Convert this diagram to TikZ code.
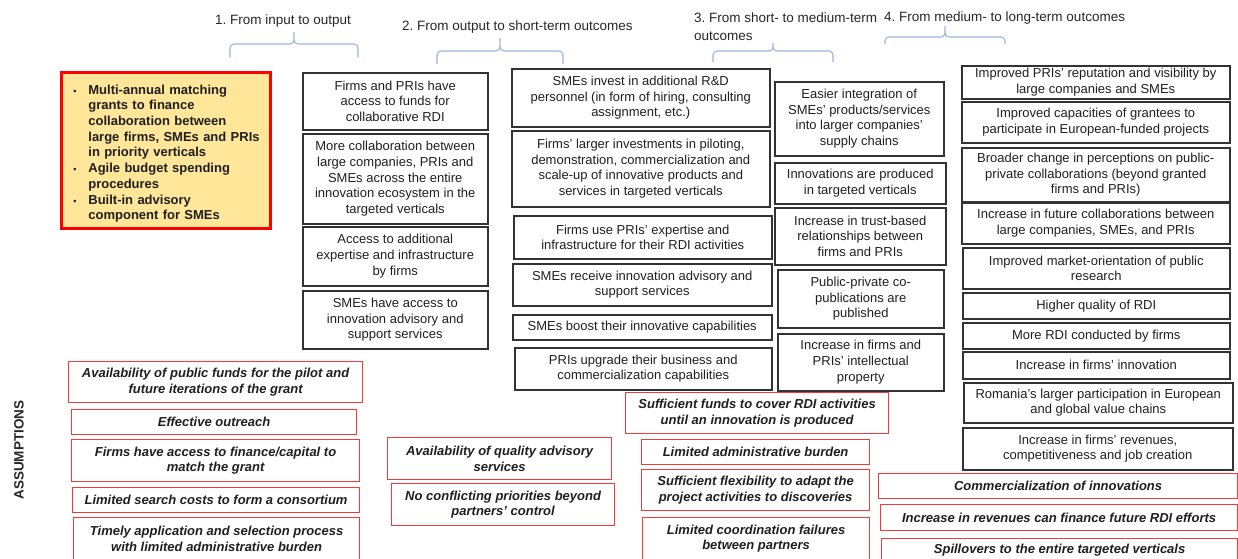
\documentclass[tikz,border=0pt]{standalone}
\usepackage{fontspec}
\setmainfont{Liberation Sans}
\usetikzlibrary{positioning}
\frenchspacing
\definecolor{inputfill}{HTML}{FFE699}
\definecolor{asred}{HTML}{F23A3A}
\definecolor{braceblue}{HTML}{9AB6E4}
\tikzset{
  basic/.style  = {draw, rectangle, anchor=north west, align=center, inner sep=1pt,
                   font=\fontsize{13}{15.7}\selectfont, text=black!88},
  output/.style = {basic, draw=black!80, line width=1.5pt},
  assump/.style = {basic, draw=asred, line width=1.2pt,
                   font=\fontsize{13}{15.7}\selectfont\bfseries\itshape},
  input/.style  = {basic, draw=red, line width=2.8pt, fill=inputfill, align=left,
                   text width=193pt, inner xsep=8pt,
                   font=\fontsize{13}{15.7}\selectfont\bfseries},
  stage/.style  = {inner sep=0pt, font=\fontsize{13.5}{18}\selectfont, text=black!85},
  stagebrace/.style = {draw=braceblue, line width=1.1pt, rounded corners=4pt},
  wh/.style 2 args = {minimum width=#1pt, minimum height=#2pt}
}
\newcommand\grantitem[1]{\par\noindent\hangindent=19pt\hangafter=1%
  \makebox[19pt][l]{\hspace{4pt}\fontsize{9}{9}\selectfont\textbullet}#1\par}

\begin{document}
\begin{tikzpicture}[x=1pt, y=-1pt]
\useasboundingbox (0,0) rectangle (1238,558);
\clip (0,0) rectangle (1238,558);

% stage headings and their braces
\node[stage] (st1) at (283,21) {1. From input to output};
\node[stage, anchor=west] (st2) at (402,27) {2. From output to short-term outcomes};
\node[stage, anchor=north west, align=left] (st3) at (694,13) {3. From short- to medium-term\\outcomes};
\node[stage, anchor=west] (st4) at (884,18) {4. From medium- to long-term outcomes};

\foreach \xl/\xr/\xm/\yb/\yh/\yt in {230/358/294/57/44/32, 437/563/500/64/51/38,
                                     713/833/773/62/51/43, 885/1005/945/44/37/26}
  \draw[stagebrace] (\xl,\yb) |- (\xm,\yh) -- (\xm,\yt) (\xr,\yb) |- (\xm,\yh) -- (\xm,\yt);

% input
\node[input, wh={209}{156}] (grant) at (60,71) {%
  \grantitem{Multi-annual matching\newline grants to finance\newline collaboration between\newline large firms, SMEs and PRIs\newline in priority verticals}%
  \grantitem{Agile budget spending\newline procedures}%
  \grantitem{Built-in advisory\newline component for SMEs}};

% 1. outputs
\node[output, wh={185}{57}] (acc) at (302,72) {Firms and PRIs have\\access to funds for\\collaborative RDI};
\node[output, wh={185}{90}] (collab) at (302,133) {More collaboration between\\large companies, PRIs and\\SMEs across the entire\\innovation ecosystem in the\\targeted verticals};
\node[output, wh={185}{59}] (expert) at (302,226) {Access to additional\\expertise and infrastructure\\by firms};
\node[output, wh={185}{58}] (advisory) at (302,290) {SMEs have access to\\innovation advisory and\\support services};

% 2. short-term outcomes
\node[output, wh={258}{58}] (rdpers) at (511,68) {SMEs invest in additional R\&D\\personnel (in form of hiring, consulting\\assignment, etc.)};
\node[output, wh={258}{76}] (invest) at (511,130) {Firms' larger investments in piloting,\\demonstration, commercialization and\\scale-up of innovative products and\\services in targeted verticals};
\node[output, wh={258}{43}] (useinfra) at (513,215) {Firms use PRIs' expertise and\\infrastructure for their RDI activities};
\node[output, wh={259}{42}] (advice) at (512,263) {SMEs receive innovation advisory and\\support services};
\node[output, wh={259}{25}] (boost) at (512,314) {SMEs boost their innovative capabilities};
\node[output, wh={257}{42}] (upgrade) at (514,347) {PRIs upgrade their business and\\commercialization capabilities};

% 3. medium-term outcomes
\node[output, wh={169}{74}] (integr) at (774,81) {Easier integration of\\SMEs’ products/services\\into larger companies’\\supply chains};
\node[output, wh={171}{41}] (innov) at (774,162) {Innovations are produced\\in targeted verticals};
\node[output, wh={171}{57}] (trust) at (774,207) {Increase in trust-based\\relationships between\\firms and PRIs};
\node[output, wh={166}{58}] (copub) at (777,269) {Public-private co-\\publications are\\published};
\node[output, wh={166}{57}] (ip) at (777,333) {Increase in firms and\\PRIs' intellectual\\property};

% 4. long-term outcomes
\node[output, wh={268}{33}] (reput) at (961,65) {Improved PRIs' reputation and visibility by\\large companies and SMEs};
\node[output, wh={268}{41}] (capac) at (961,101) {Improved capacities of grantees to\\participate in European-funded projects};
\node[output, wh={268}{54}] (percep) at (961,147) {Broader change in perceptions on public-\\private collaborations (beyond granted\\firms and PRIs)};
\node[output, wh={268}{41}] (futcol) at (961,202) {Increase in future collaborations between\\large companies, SMEs, and PRIs};
\node[output, wh={267}{41}] (market) at (962,247) {Improved market-orientation of public\\research};
\node[output, wh={267}{26}] (quality) at (962,292) {Higher quality of RDI};
\node[output, wh={267}{26}] (morerdi) at (962,322) {More RDI conducted by firms};
\node[output, wh={267}{27}] (firminn) at (962,351) {Increase in firms' innovation};
\node[output, wh={269}{40}] (gvc) at (963,382) {Romania’s larger participation in European\\and global value chains};
\node[output, wh={270}{42}] (revenue) at (962,427) {Increase in firms' revenues,\\competitiveness and job creation};

% assumptions
\node[stage, font=\fontsize{13.5}{16}\selectfont\bfseries, rotate=90] (assum) at (19,450) {ASSUMPTIONS};

\node[assump, wh={294}{41}] (asfunds) at (68,361) {Availability of public funds for the pilot and\\future iterations of the grant};
\node[assump, wh={285}{25}] (asoutreach) at (71,409) {Effective outreach};
\node[assump, wh={288}{42}] (ascapital) at (71,439) {Firms have access to finance/capital to\\match the grant};
\node[assump, wh={287}{25}] (assearch) at (72,487) {Limited search costs to form a consortium};
\node[assump, wh={286}{42}] (astimely) at (73,517) {Timely application and selection process\\with limited administrative burden};

\node[assump, wh={224}{42}] (asadvisory) at (387,437) {Availability of quality advisory\\services};
\node[assump, wh={223}{42}] (asconflict) at (391,483) {No conflicting priorities beyond\\partners’ control};

\node[assump, wh={263}{41}] (asrdi) at (625,392) {Sufficient funds to cover RDI activities\\until an innovation is produced};
\node[assump, wh={228}{25}] (asadmin) at (641,439) {Limited administrative burden};
\node[assump, wh={228}{41}] (asflex) at (641,469) {Sufficient flexibility to adapt the\\project activities to discoveries};
\node[assump, wh={227}{42}] (ascoord) at (642,517) {Limited coordination failures\\between partners};

\node[assump, wh={359}{25}] (ascomm) at (878,473) {Commercialization of innovations};
\node[assump, wh={357}{26}] (asrevenue) at (880,504) {Increase in revenues can finance future RDI efforts};
\node[assump, wh={356}{24}] (asspill) at (881,538) {Spillovers to the entire targeted verticals};
\end{tikzpicture}
\end{document}
